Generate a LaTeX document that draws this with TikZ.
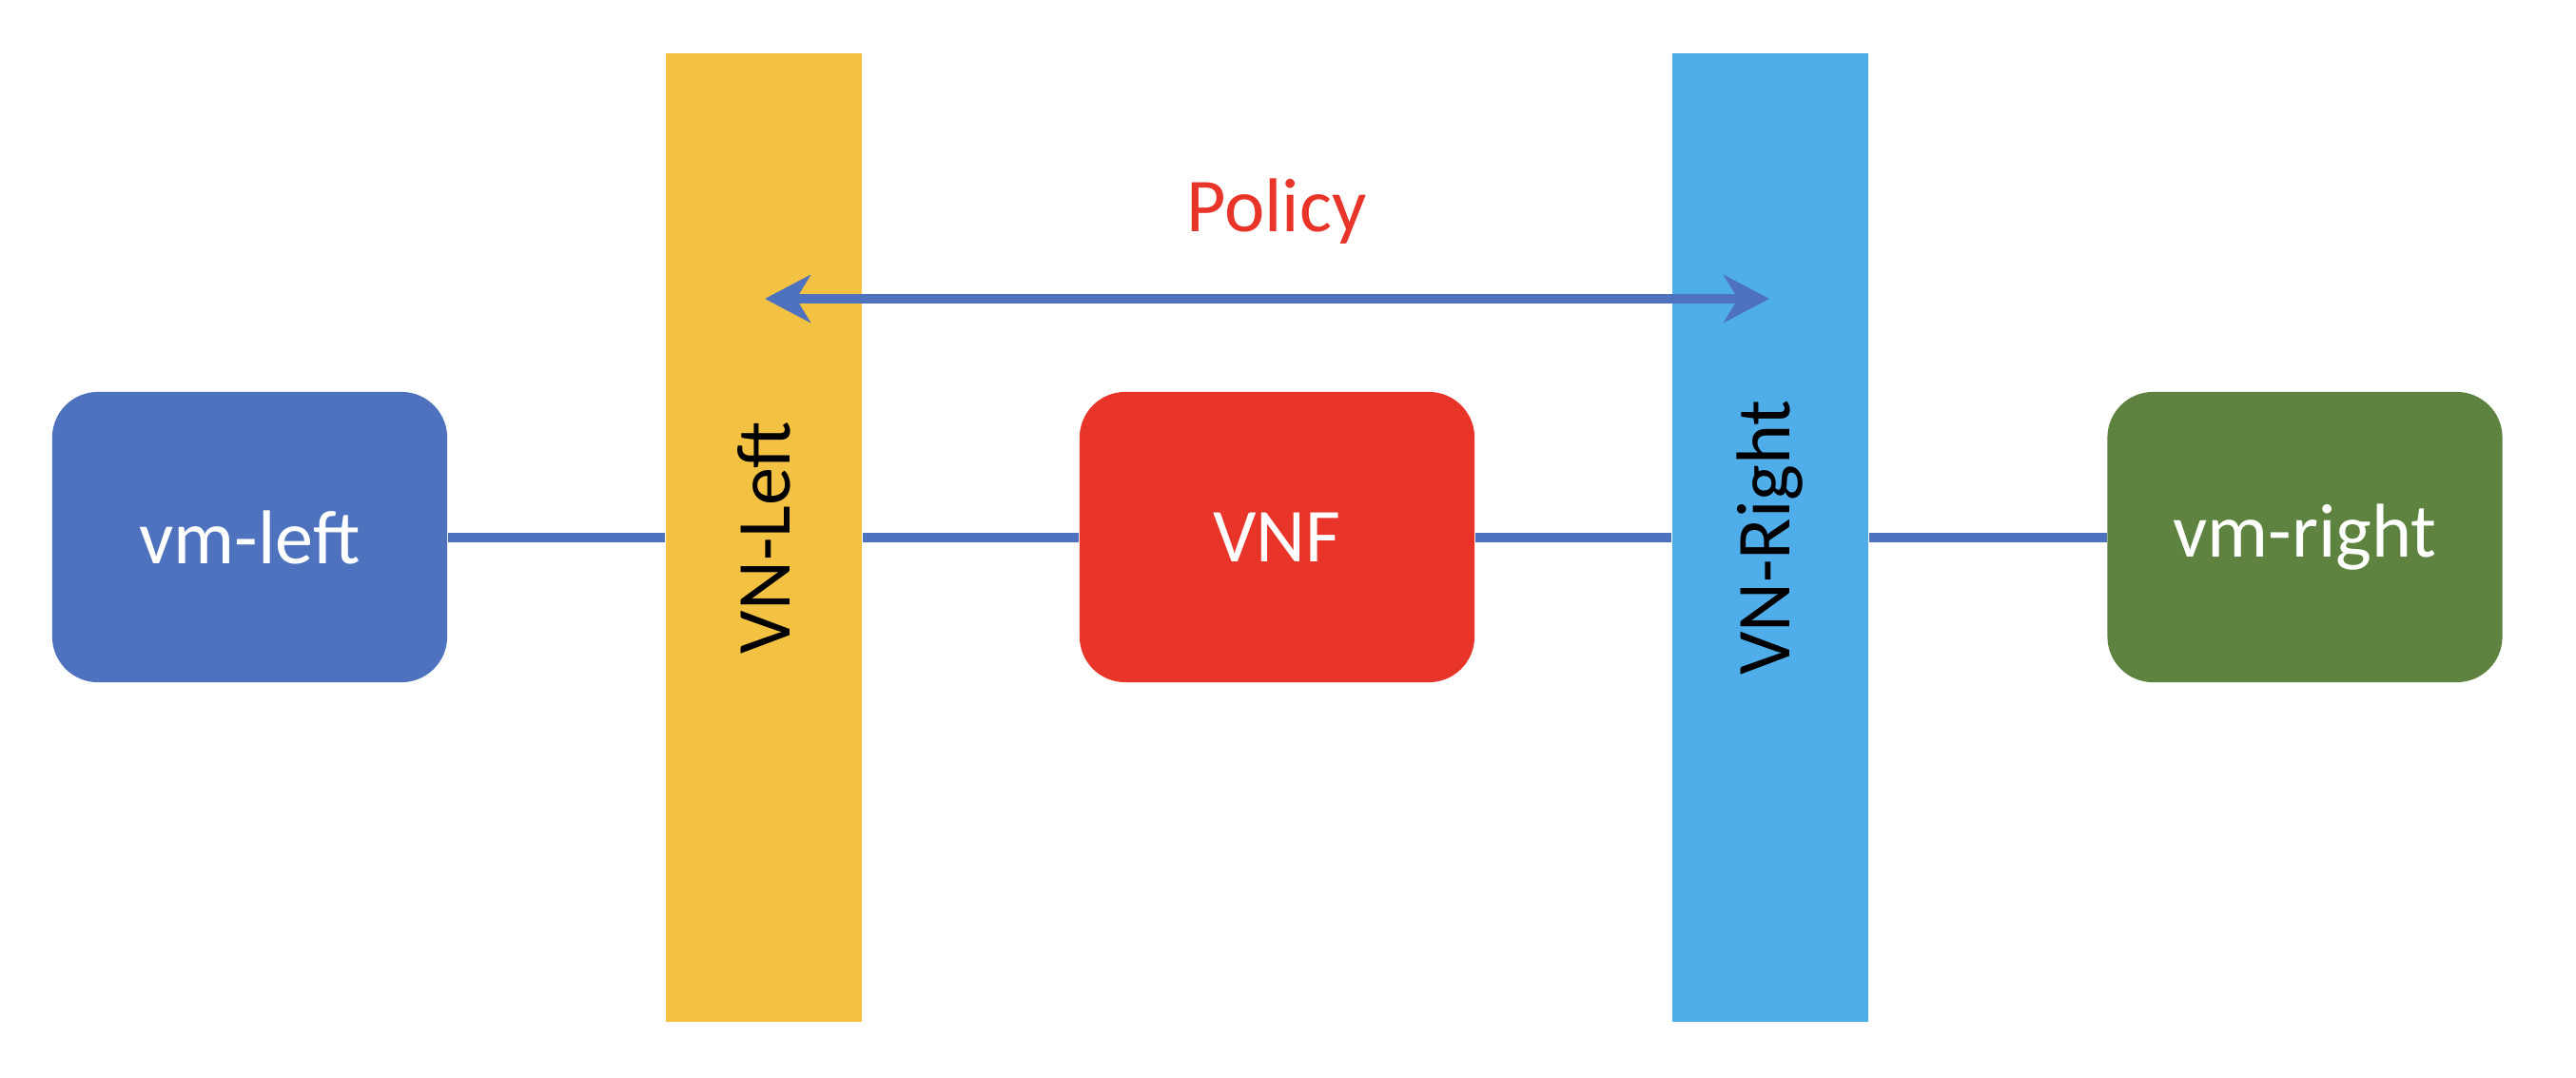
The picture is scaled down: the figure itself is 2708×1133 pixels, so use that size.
\documentclass[tikz,border=0pt]{standalone}
\usepackage{fontspec}
\setmainfont{Carlito}
\usetikzlibrary{arrows.meta}
\definecolor{cblue}{HTML}{4E72BE}
\definecolor{cred}{HTML}{E9342A}
\definecolor{cyellow}{HTML}{F4C242}
\definecolor{clblue}{HTML}{4FAEEA}
\definecolor{cgreen}{HTML}{5E823F}
\definecolor{cpolicy}{HTML}{E9342A}
\tikzset{
  vmbox/.style={rectangle, rounded corners=0.48cm, minimum width=4.15cm, minimum height=3.05cm, text=white, inner sep=0pt, font=\fontsize{22.8pt}{27pt}\selectfont},
  bar/.style={rectangle, minimum width=2.06cm, minimum height=10.18cm, inner sep=0pt},
  barlabel/.style={rotate=90, text=black, inner sep=0pt, font=\fontsize{22.8pt}{27pt}\selectfont},
  link/.style={draw=cblue, line width=0.1cm},
  pol/.style={draw=cblue, line width=0.1cm, {Stealth[length=0.48cm, width=0.5cm, inset=0.15cm]}-{Stealth[length=0.48cm, width=0.5cm, inset=0.15cm]}}
}
\begin{document}
\begin{tikzpicture}[x=0.01cm, y=-0.01cm]
\useasboundingbox[fill=white] (0,0) rectangle (2708,1133);
% bars
\node[bar, fill=cyellow] (vnl) at (803,565) {};
\node[bar, fill=clblue] (vnr) at (1861,565) {};
% boxes
\node[vmbox, fill=cblue] (vml) at (262.5,564.5) {vm-left};
\node[vmbox, fill=cred] (vnf) at (1342.5,564.5) {VNF};
\node[vmbox, fill=cgreen] (vmr) at (2423,564.5) {vm-right};
% connectors
\draw[link] (vml.east) -- (vnl.west |- vml.east);
\draw[link] (vnl.east |- vnf.west) -- (vnf.west);
\draw[link] (vnf.east) -- (vnr.west |- vnf.east);
\draw[link] (vnr.east |- vmr.west) -- (vmr.west);
% labels on bars
\node[barlabel] (vnllab) at (vnl.center) {VN-Left};
\node[barlabel] (vnrlab) at (vnr.center) {VN-Right};
% policy arrow
\coordinate (pa) at (804,314);
\coordinate (pb) at (1860,314);
\draw[pol] (pa) -- (pb);
\node[text=cpolicy, inner sep=0pt, font=\fontsize{22.8pt}{27pt}\selectfont] (policy) at (1342,222) {Policy};
\end{tikzpicture}
\end{document}
